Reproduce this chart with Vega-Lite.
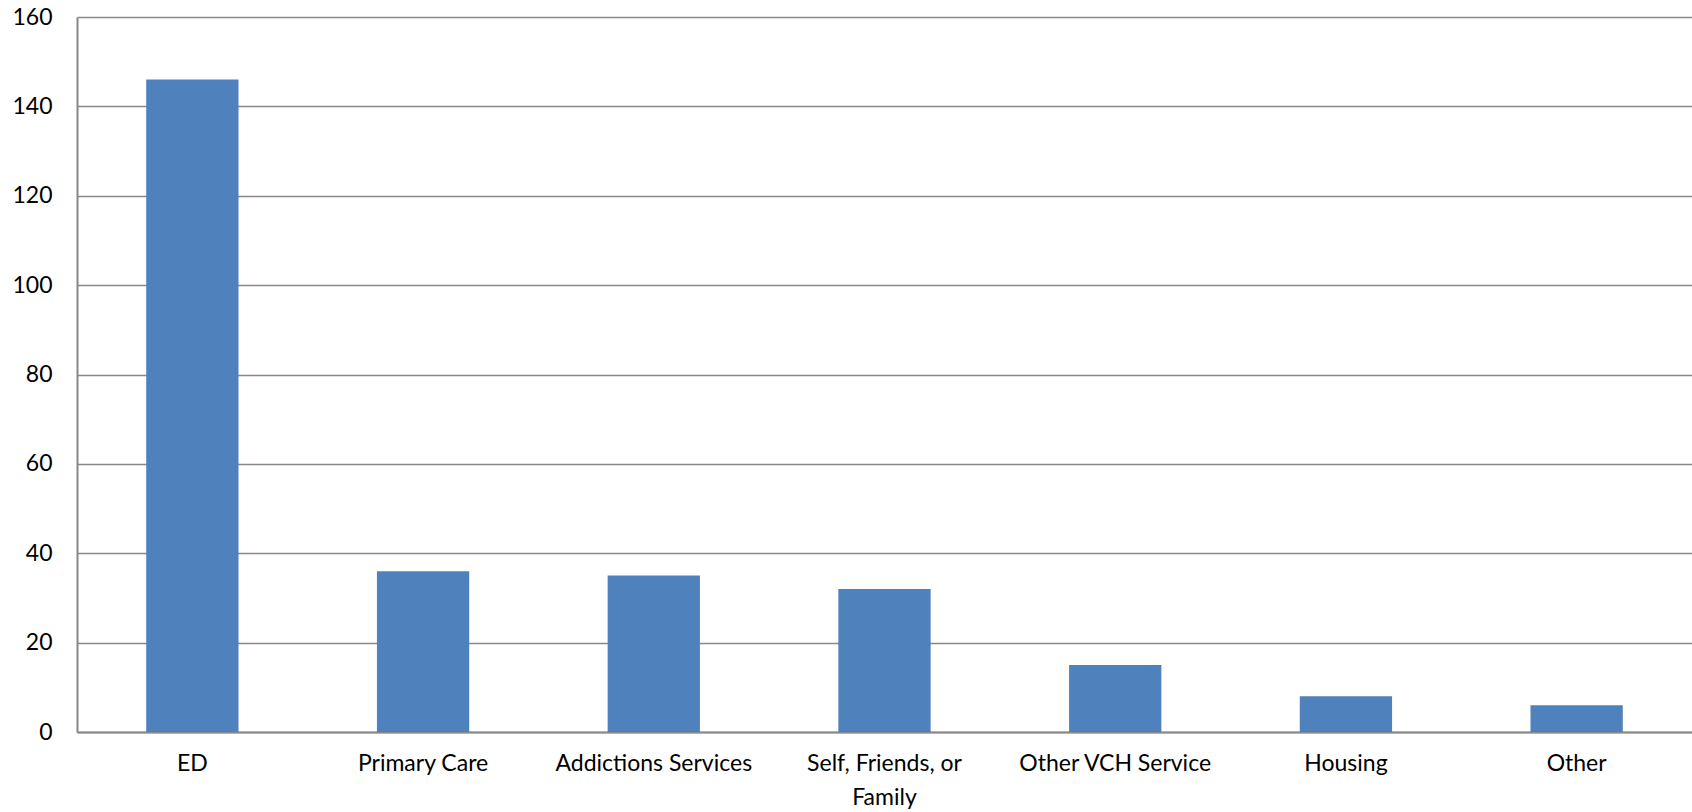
{
  "$schema": "https://vega.github.io/schema/vega-lite/v6.json",
  "autosize": "none",
  "width": 1615,
  "height": 715,
  "padding": {"left": 77, "top": 17, "right": 0, "bottom": 80},
  "background": "white",
  "data": {"values": [
    {"source": "ED", "count": 146},
    {"source": "Primary Care", "count": 36},
    {"source": "Addictions Services", "count": 35},
    {"source": "Self, Friends, or Family", "count": 32},
    {"source": "Other VCH Service", "count": 15},
    {"source": "Housing", "count": 8},
    {"source": "Other", "count": 6}
  ]},
  "config": {
    "view": {"stroke": null},
    "font": "Lato"
  },
  "mark": {"type": "bar", "color": "#4F81BD"},
  "encoding": {
    "x": {
      "field": "source", "type": "nominal", "sort": null,
      "scale": {"paddingInner": 0.6, "paddingOuter": 0.3},
      "axis": {
        "title": null, "labelAngle": 0, "labelFontSize": 23, "labelColor": "#000000",
        "labelFont": "Lato", "ticks": false, "labelPadding": 20,
        "labelLimit": 0, "labelOverlap": false,
        "domainColor": "#888888", "domainWidth": 2,
        "labelLineHeight": 34,
        "labelExpr": "datum.label == 'Self, Friends, or Family' ? ['Self, Friends, or', 'Family'] : datum.label"
      }
    },
    "y": {
      "field": "count", "type": "quantitative",
      "scale": {"domain": [0, 160]},
      "axis": {
        "title": null, "values": [0, 20, 40, 60, 80, 100, 120, 140, 160],
        "labelFontSize": 23, "labelColor": "#000000", "labelFont": "Lato",
        "ticks": false, "labelPadding": 25,
        "domainColor": "#888888", "domainWidth": 2,
        "gridColor": "#888888", "gridWidth": 1.5, "gridOpacity": 1
      }
    }
  }
}
